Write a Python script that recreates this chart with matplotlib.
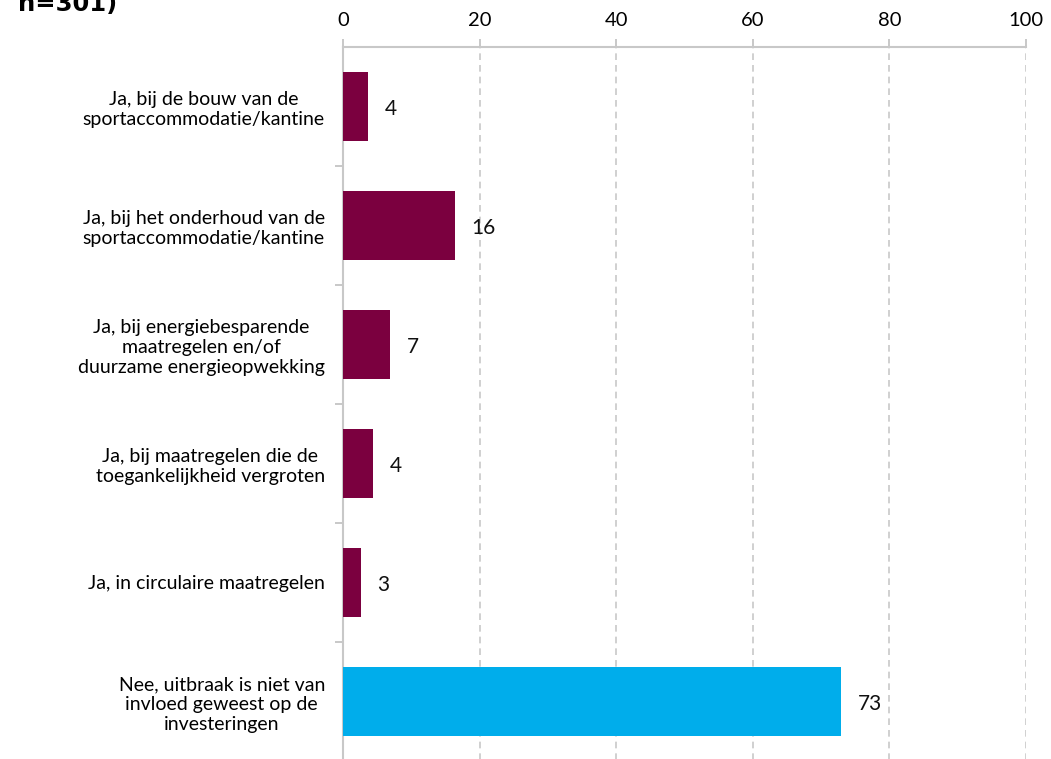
import matplotlib
matplotlib.use("Agg")
import matplotlib.pyplot as plt
import numpy as np

categories = [
    "Ja, bij de bouw van de\nsportaccommodatie/kantine",
    "Ja, bij het onderhoud van de\nsportaccommodatie/kantine",
    "Ja, bij energiebesparende\nmaatregelen en/of\nduurzame energieopwekking",
    "Ja, bij maatregelen die de\ntoegankelijkheid vergroten",
    "Ja, in circulaire maatregelen",
    "Nee, uitbraak is niet van\ninvloed geweest op de\ninvesteringen",
]
values = [3.7, 16.4, 6.9, 4.4, 2.6, 72.9]
labels = ["4", "16", "7", "4", "3", "73"]
colors = ["#7B003F", "#7B003F", "#7B003F", "#7B003F", "#7B003F", "#00ADEB"]
xticks = [0, 20, 40, 60, 80, 100]

plt.rcParams['font.family'] = ['Lato', 'DejaVu Sans']
fig = plt.figure(figsize=(10.51, 7.59), dpi=100)
ax = fig.add_axes([343/1051, 1 - 761/759, (1026-343)/1051, (761-47)/759])

y = np.arange(len(categories))
ax.barh(y, values, height=0.58, color=colors, zorder=3)
for yi, v, lab in zip(y, values, labels):
    ax.annotate(lab, (v, yi), xytext=(12, -1.5), textcoords='offset points',
                va='center', ha='left', fontsize=15, color='#111111')

ax.set_xlim(0, 100)
ax.set_ylim(len(categories) - 0.5, -0.5)
ax.xaxis.tick_top()
ax.set_xticks(xticks)
ax.set_xticklabels([str(t) for t in xticks], fontsize=14.5)
ax.tick_params(axis='x', which='major', length=6, color='#BFBFBF', width=1.2, pad=7)

ax.set_yticks(y)
ax.set_yticklabels(categories, fontsize=14, multialignment='center',
                   linespacing=1.2)
ax.set_yticks(np.arange(0.5, len(categories) - 0.5, 1), minor=True)
ax.tick_params(axis='y', which='major', length=0, pad=13)
ax.tick_params(axis='y', which='minor', length=6, color='#BFBFBF', width=1.2)

ax.grid(axis='x', linestyle=(0, (4, 3)), color='#C8C8C8', linewidth=1.2, zorder=0)
for s in ['right', 'bottom']:
    ax.spines[s].set_visible(False)
ax.spines['top'].set_color('#C8C8C8')
ax.spines['top'].set_linewidth(1.5)
ax.spines['left'].set_color('#C8C8C8')
ax.spines['left'].set_linewidth(1.5)

fig.text(18/1051, 1 - 11/759, "n=301)", fontsize=17.5, fontweight='bold',
         va='baseline', ha='left', family='DejaVu Sans')

fig.savefig("out.png", dpi=100)
